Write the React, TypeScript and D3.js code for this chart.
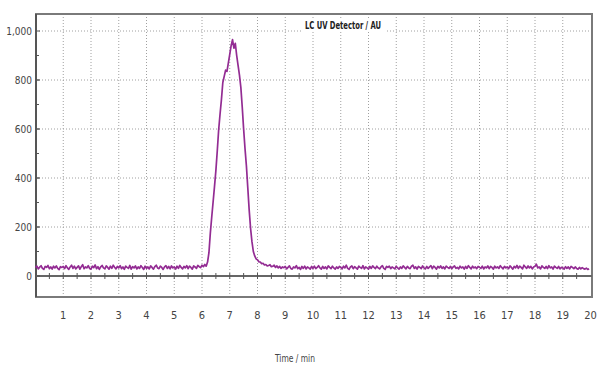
import React from "react";
import * as d3 from "d3";

// Sampling interval of the detector trace, minutes
const sampleStep = 0.05;

// Detector signal (AU), one value every 0.05 min from 0 to 19.95 min
const signal: number[] = [
  34,40,29,36,42,31,27,39,35,43,30,37,28,40,33,41,31,26,38,35,
  39,30,42,33,27,37,44,31,40,29,35,41,28,38,46,30,37,33,42,31,
  28,40,34,45,30,38,27,37,43,33,29,41,35,28,40,31,44,36,29,39,
  33,42,30,37,27,40,35,31,43,28,38,33,41,29,37,31,42,35,27,40,
  31,37,29,41,35,28,38,44,33,30,40,35,27,37,42,31,39,29,41,33,
  37,28,40,31,43,35,29,39,33,42,30,40,35,28,41,37,31,43,38,34,
  44,38,47,40,57,95,175,240,302,365,430,510,596,660,720,790,815,840,835,870,
  905,940,965,930,950,900,860,820,770,690,600,520,450,360,270,195,140,100,82,70,
  66,58,57,50,52,45,47,41,43,46,38,40,44,35,41,33,39,31,37,34,
  39,29,35,41,31,28,37,33,42,30,35,27,39,31,40,29,37,33,28,39,
  31,40,30,35,42,33,28,39,31,37,29,41,35,30,40,33,28,37,31,39,
  35,29,40,33,44,31,27,37,41,30,38,33,28,40,35,31,42,29,37,33,
  28,39,31,41,35,30,40,33,29,37,42,31,27,39,35,40,30,37,33,29,
  40,33,28,37,31,41,35,29,39,33,30,40,44,31,37,28,39,35,30,41,
  33,29,39,31,37,42,30,40,35,28,39,33,41,31,37,29,40,35,31,39,
  30,37,41,31,35,29,40,33,37,28,39,31,42,35,29,40,33,37,30,39,
  35,31,40,29,37,33,41,30,39,35,28,40,33,37,31,42,35,29,39,33,
  37,30,41,35,28,39,33,43,31,40,35,29,44,37,31,41,33,39,29,37,
  40,48,33,37,29,41,35,31,39,30,42,33,37,28,40,35,31,39,29,35,
  33,28,38,31,37,29,39,35,30,37,31,28,35,29,34,30,28,32,27,30,
];

const xTicks = [1,2,3,4,5,6,7,8,9,10,11,12,13,14,15,16,17,18,19,20];
const yTicks = [0,200,400,600,800,1000];
const xDomain = [0, 20];
const yDomain = [0, 1000];

const title = "LC UV Detector / AU";
const xTitle = "Time / min";

export default function App() {
  const W = 601, H = 368;
  const left = 36, right = 592, top = 14, bottom = 297;
  const x = d3.scaleLinear().domain(xDomain).range([35.5, 590.5]);
  const y = d3.scaleLinear().domain(yDomain).range([276, 31]);

  const pts: [number, number][] = signal.map((v, i) => [i * sampleStep, v]);
  const line = d3.line<[number, number]>().x(d => x(d[0])).y(d => y(d[1]));

  const halfTicks = d3.range(0.5, 20, 0.5);
  const yMinor = d3.range(100, 1000, 100);
  const font = "'Liberation Sans Narrow', 'DejaVu Sans Condensed', Arial, sans-serif";

  return (
    <svg width={W} height={H} style={{ position: "absolute", left: 0, top: 0, background: "#fff" }}>
      <rect x={0} y={0} width={W} height={H} fill="#fff" />
      {/* grid */}
      {xTicks.filter(t => t < 20).map(t => (
        <line key={"gx" + t} x1={x(t)} x2={x(t)} y1={top} y2={bottom}
          stroke="#a0a0a0" strokeWidth={1} strokeDasharray="1,2" />
      ))}
      {yTicks.filter(t => t > 0).map(t => (
        <line key={"gy" + t} x1={left} x2={right} y1={y(t)} y2={y(t)}
          stroke="#a0a0a0" strokeWidth={1} strokeDasharray="1,2" />
      ))}
      {/* title with white background */}
      <rect x={303} y={18} width={83} height={14} fill="#fff" />
      <text x={305} y={29} fontFamily={font} fontWeight="bold"
        fontSize={10} fill="#222" textLength={76} lengthAdjust="spacingAndGlyphs">{title}</text>
      {/* frame */}
      <rect x={left} y={top} width={right - left} height={bottom - top}
        fill="none" stroke="#7a7a7a" strokeWidth={2} />
      <line x1={left} x2={left} y1={top} y2={bottom} stroke="#555" strokeWidth={2} />
      {/* zero line */}
      <line x1={left} x2={right} y1={y(0)} y2={y(0)} stroke="#666" strokeWidth={2} />
      {halfTicks.map(t => (
        <line key={"ht" + t} x1={x(t)} x2={x(t)} y1={y(0) - 3} y2={y(0) + 3}
          stroke="#555" strokeWidth={1} />
      ))}
      {yMinor.map(t => (
        <line key={"ym" + t} x1={left} x2={left + 3} y1={y(t)} y2={y(t)} stroke="#555" strokeWidth={1} />
      ))}
      {yTicks.map(t => (
        <line key={"yt" + t} x1={left} x2={left + 4} y1={y(t)} y2={y(t)} stroke="#555" strokeWidth={1} />
      ))}
      {/* trace */}
      <path d={line(pts) || ""} fill="none" stroke="#932c93" strokeWidth={1.7} strokeLinejoin="round" />
      {/* y labels */}
      {yTicks.map(t => (
        <text key={"yl" + t} x={32} y={y(t) + 3.5} textAnchor="end" fontFamily={font}
          fontSize={10} fill="#444">{d3.format(",")(t)}</text>
      ))}
      {/* x labels */}
      {xTicks.map(t => (
        <text key={"xl" + t} x={x(t)} y={319} textAnchor="middle" fontFamily={font}
          fontSize={11} fill="#444">{t}</text>
      ))}
      <text x={275} y={362} fontFamily={font} fontSize={10} fill="#444"
        textLength={40} lengthAdjust="spacingAndGlyphs">{xTitle}</text>
    </svg>
  );
}
